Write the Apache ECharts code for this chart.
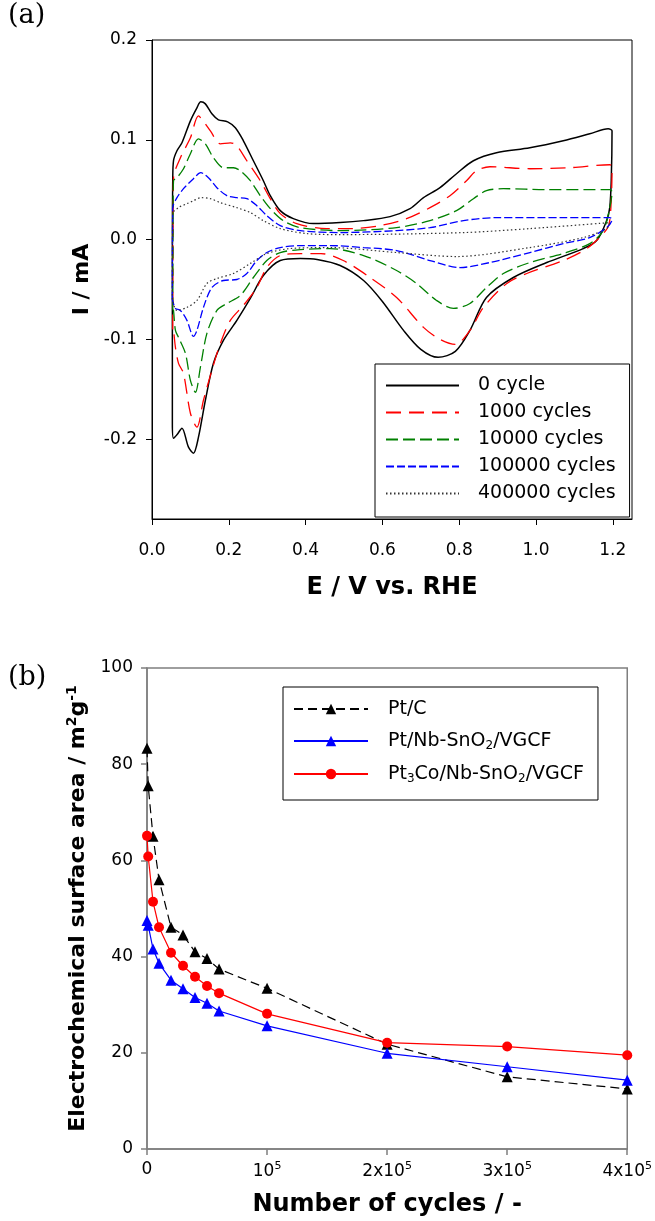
<!DOCTYPE html>
<html>
<head>
<meta charset="utf-8">
<title>CV and ECSA</title>
<script src="https://cdn.jsdelivr.net/npm/echarts@6/dist/echarts.min.js"></script>
<style>
  html, body { margin: 0; padding: 0; background: #fff; }
  #chart { width: 655px; height: 1221px; }
</style>
</head>
<body>
<div id="chart"></div>
<script>
// (a) cyclic voltammograms, [E / V, I / mA] in sweep order (anodic then cathodic)
const cv0 = [
  [0.053, -0.180], [0.053, 0.000], [0.054, 0.060], [0.056, 0.079], [0.065, 0.089], [0.078, 0.097],
  [0.100, 0.119], [0.117, 0.132], [0.127, 0.138], [0.139, 0.136], [0.156, 0.126], [0.173, 0.120],
  [0.197, 0.118], [0.217, 0.112], [0.238, 0.099], [0.264, 0.079], [0.290, 0.059], [0.308, 0.044],
  [0.334, 0.029], [0.368, 0.021], [0.420, 0.016], [0.490, 0.017], [0.551, 0.019], [0.620, 0.023],
  [0.672, 0.031], [0.707, 0.042], [0.750, 0.052], [0.793, 0.066], [0.837, 0.079], [0.897, 0.087],
  [0.984, 0.092], [1.071, 0.099], [1.140, 0.106], [1.188, 0.111], [1.198, 0.109], [1.196, 0.060],
  [1.192, 0.032], [1.184, 0.019], [1.158, -0.001], [1.123, -0.009], [1.028, -0.023], [0.941, -0.038],
  [0.871, -0.058], [0.828, -0.091], [0.790, -0.112], [0.745, -0.118], [0.700, -0.110], [0.655, -0.091],
  [0.600, -0.062], [0.551, -0.041], [0.490, -0.026], [0.430, -0.020], [0.386, -0.019], [0.334, -0.021],
  [0.290, -0.036], [0.256, -0.059], [0.221, -0.081], [0.186, -0.101], [0.160, -0.124], [0.139, -0.161],
  [0.121, -0.198], [0.108, -0.214], [0.095, -0.208], [0.078, -0.189], [0.066, -0.195], [0.056, -0.199],
  [0.053, -0.184], [0.053, -0.180]
];
const cv1000 = [
  [0.054, -0.090], [0.055, 0.030], [0.056, 0.062], [0.074, 0.082], [0.100, 0.102], [0.121, 0.124],
  [0.135, 0.118], [0.152, 0.109], [0.178, 0.096], [0.204, 0.097], [0.221, 0.094], [0.247, 0.079],
  [0.282, 0.059], [0.308, 0.041], [0.334, 0.026], [0.377, 0.016], [0.455, 0.011], [0.520, 0.011],
  [0.594, 0.014], [0.663, 0.021], [0.724, 0.032], [0.776, 0.044], [0.819, 0.059], [0.845, 0.069],
  [0.880, 0.073], [0.984, 0.071], [1.088, 0.072], [1.192, 0.075], [1.198, 0.073], [1.196, 0.040],
  [1.190, 0.015], [1.175, 0.006], [1.132, -0.009], [1.071, -0.021], [0.976, -0.034], [0.924, -0.044],
  [0.863, -0.068], [0.828, -0.091], [0.790, -0.105], [0.750, -0.100], [0.707, -0.088], [0.637, -0.058],
  [0.568, -0.038], [0.498, -0.021], [0.440, -0.014], [0.386, -0.014], [0.334, -0.016], [0.299, -0.028],
  [0.273, -0.048], [0.238, -0.066], [0.204, -0.081], [0.178, -0.104], [0.156, -0.131], [0.134, -0.161],
  [0.117, -0.188], [0.100, -0.174], [0.082, -0.134], [0.069, -0.124], [0.061, -0.108], [0.056, -0.091],
  [0.054, -0.090]
];
const cv10000 = [
  [0.054, -0.070], [0.055, 0.030], [0.056, 0.059], [0.065, 0.062], [0.082, 0.071], [0.100, 0.086],
  [0.121, 0.101], [0.139, 0.096], [0.160, 0.082], [0.186, 0.072], [0.212, 0.072], [0.230, 0.069],
  [0.256, 0.059], [0.282, 0.044], [0.308, 0.031], [0.342, 0.019], [0.386, 0.012], [0.490, 0.009],
  [0.637, 0.012], [0.724, 0.019], [0.793, 0.029], [0.837, 0.041], [0.871, 0.049], [0.915, 0.051],
  [1.028, 0.050], [1.192, 0.050], [1.198, 0.048], [1.192, 0.032], [1.175, 0.009], [1.140, -0.004],
  [1.071, -0.014], [0.984, -0.023], [0.915, -0.034], [0.871, -0.048], [0.828, -0.064], [0.785, -0.069],
  [0.741, -0.061], [0.689, -0.044], [0.637, -0.031], [0.551, -0.016], [0.464, -0.009], [0.386, -0.010],
  [0.334, -0.013], [0.299, -0.021], [0.264, -0.038], [0.230, -0.056], [0.195, -0.064], [0.169, -0.071],
  [0.143, -0.094], [0.126, -0.128], [0.113, -0.153], [0.100, -0.141], [0.087, -0.114], [0.069, -0.098],
  [0.061, -0.091], [0.056, -0.071], [0.054, -0.070]
];
const cv100000 = [
  [0.053, -0.060], [0.054, 0.032], [0.065, 0.042], [0.082, 0.051], [0.108, 0.061], [0.127, 0.067],
  [0.147, 0.062], [0.169, 0.052], [0.195, 0.044], [0.221, 0.042], [0.247, 0.041], [0.273, 0.034],
  [0.299, 0.024], [0.334, 0.014], [0.386, 0.009], [0.490, 0.007], [0.637, 0.009], [0.724, 0.012],
  [0.811, 0.019], [0.897, 0.022], [1.071, 0.022], [1.192, 0.022], [1.198, 0.020], [1.184, 0.012],
  [1.140, 0.002], [1.071, -0.004], [0.984, -0.013], [0.880, -0.023], [0.802, -0.028], [0.724, -0.021],
  [0.637, -0.011], [0.551, -0.008], [0.464, -0.006], [0.386, -0.006], [0.334, -0.008], [0.299, -0.013],
  [0.273, -0.021], [0.247, -0.034], [0.221, -0.040], [0.186, -0.041], [0.156, -0.048], [0.134, -0.068],
  [0.117, -0.091], [0.108, -0.097], [0.091, -0.081], [0.074, -0.071], [0.061, -0.069], [0.053, -0.060]
];
const cv400000 = [
  [0.053, -0.060], [0.054, 0.026], [0.069, 0.032], [0.091, 0.036], [0.108, 0.039], [0.127, 0.042],
  [0.152, 0.041], [0.178, 0.037], [0.221, 0.032], [0.256, 0.027], [0.290, 0.019], [0.334, 0.011],
  [0.403, 0.006], [0.490, 0.005], [0.811, 0.007], [0.984, 0.011], [1.192, 0.017], [1.184, 0.011],
  [1.123, 0.002], [0.984, -0.008], [0.793, -0.017], [0.637, -0.013], [0.464, -0.008], [0.360, -0.009],
  [0.299, -0.014], [0.256, -0.024], [0.212, -0.034], [0.169, -0.039], [0.143, -0.044], [0.117, -0.061],
  [0.091, -0.068], [0.065, -0.071], [0.053, -0.060]
];
const cvNames = ['0 cycle', '1000 cycles', '10000 cycles', '100000 cycles', '400000 cycles'];

// (b) electrochemical surface area vs number of cycles
const cycles = [0, 1000, 5000, 10000, 20000, 30000, 40000, 50000, 60000, 100000, 200000, 300000, 400000];
const esaPtC = [83.3, 75.5, 65.0, 56.0, 46.1, 44.5, 41.0, 39.6, 37.4, 33.4, 21.8, 15.0, 12.5];
const esaPtNb = [47.5, 46.5, 41.6, 38.6, 35.1, 33.3, 31.5, 30.3, 28.7, 25.6, 19.9, 17.1, 14.3];
const esaPt3Co = [65.1, 60.8, 51.4, 46.1, 40.8, 38.1, 35.8, 33.9, 32.4, 28.1, 22.1, 21.3, 19.5];
const esaNames = ['Pt/C', 'Pt/Nb-SnO2/VGCF', 'Pt3Co/Nb-SnO2/VGCF'];
const esaLabels = ['Pt/C', 'Pt/Nb-SnO{sub|2}/VGCF', 'Pt{sub|3}Co/Nb-SnO{sub|2}/VGCF'];
const cycleTickLabels = ['0', '10{sup|5}', '2x10{sup|5}', '3x10{sup|5}', '4x10{sup|5}'];

const FONT = 'DejaVu Sans';
const GRAY = '#7f7f7f';

const chart = echarts.init(document.getElementById('chart'));

const pairs = (ys) => cycles.map((c, i) => [c, ys[i]]);

const cvSeries = (name, data, color, dash, width) => ({
  name,
  type: 'line',
  xAxisIndex: 0,
  yAxisIndex: 0,
  data,
  symbol: 'none',
  smooth: 0.3,
  lineStyle: { color, type: dash, width },
  itemStyle: { color },
})

const esaSeries = (name, ys, color, symbol, size, dash) => ({
  name,
  type: 'line',
  xAxisIndex: 1,
  yAxisIndex: 1,
  data: pairs(ys),
  symbol,
  symbolSize: size,
  lineStyle: { color, type: dash, width: 1.2 },
  itemStyle: { color },
})

const supRich = {
  sup: { fontFamily: FONT, fontSize: 11, padding: [0, 0, 10, 0], color: '#000' },
}

const option = {
  animation: false,
  backgroundColor: '#fff',
  title: [
    { text: '(a)', left: 8, top: 2, padding: 0, textStyle: { fontFamily: 'DejaVu Serif', fontSize: 27, fontWeight: 'normal', color: '#000' } },
    { text: '(b)', left: 8, top: 664, padding: 0, textStyle: { fontFamily: 'DejaVu Serif', fontSize: 27, fontWeight: 'normal', color: '#000' } },
  ],
  legend: [
    {
      data: cvNames,
      orient: 'vertical',
      left: 375,
      top: 364,
      itemWidth: 73,
      itemHeight: 14,
      itemGap: 8,
      padding: [12, 14, 14, 10],
      borderColor: '#000',
      borderWidth: 1,
      backgroundColor: '#fff',
      selectedMode: false,
      itemStyle: { opacity: 0 },
      textStyle: { fontFamily: FONT, fontSize: 19, color: '#000', lineHeight: 18, padding: [0, 0, 0, 14] },
    },
    {
      data: esaNames,
      orient: 'vertical',
      left: 283,
      top: 687,
      itemWidth: 74,
      itemHeight: 13,
      itemGap: 12,
      padding: [12, 14, 15, 10],
      borderColor: '#000',
      borderWidth: 1,
      backgroundColor: '#fff',
      selectedMode: false,
      formatter: (name) => esaLabels[esaNames.indexOf(name)],
      textStyle: {
        fontFamily: FONT, fontSize: 19, color: '#000', lineHeight: 20, padding: [0, 0, 0, 15],
        rich: { sub: { fontFamily: FONT, fontSize: 12, padding: [10, 0, 0, 0], color: '#000' } },
      },
    },
  ],
  grid: [
    { left: 152, top: 40, width: 480, height: 479, show: true, borderColor: '#000', borderWidth: 1 },
    { left: 147, top: 668, width: 482, height: 481, show: true, borderColor: GRAY, borderWidth: 1.5 },
  ],
  xAxis: [
    {
      type: 'value',
      gridIndex: 0,
      min: 0,
      max: 1.25,
      interval: 0.2,
      name: 'E / V vs. RHE',
      nameLocation: 'middle',
      nameGap: 57,
      nameTextStyle: { fontFamily: FONT, fontSize: 24, fontWeight: 'bold', color: '#000' },
      axisLine: { onZero: false, lineStyle: { color: '#000', width: 1 } },
      axisTick: { length: 6, lineStyle: { color: '#000' } },
      axisLabel: {
        margin: 23, fontFamily: FONT, fontSize: 17, color: '#000', showMaxLabel: false,
        formatter: (v) => v.toFixed(1),
      },
      splitLine: { show: false },
    },
    {
      type: 'value',
      gridIndex: 1,
      min: 0,
      max: 400000,
      interval: 100000,
      name: 'Number of cycles / -',
      nameLocation: 'middle',
      nameGap: 44,
      nameTextStyle: { fontFamily: FONT, fontSize: 24, fontWeight: 'bold', color: '#000' },
      axisLine: { onZero: false, lineStyle: { color: GRAY, width: 1.5 } },
      axisTick: { length: 6, lineStyle: { color: GRAY, width: 1.5 } },
      axisLabel: {
        margin: 12, fontFamily: FONT, fontSize: 17, color: '#000',
        formatter: (v) => cycleTickLabels[Math.round(v / 100000)],
        rich: supRich,
      },
      splitLine: { show: false },
    },
  ],
  yAxis: [
    {
      type: 'value',
      gridIndex: 0,
      min: -0.28,
      max: 0.2,
      splitNumber: 5,
      name: 'I / mA',
      nameLocation: 'middle',
      nameRotate: 90,
      nameGap: 53,
      nameTextStyle: { fontFamily: FONT, fontSize: 22, fontWeight: 'bold', color: '#000' },
      axisLine: { onZero: false, lineStyle: { color: '#000', width: 1 } },
      axisTick: { length: 6, lineStyle: { color: '#000' } },
      axisLabel: {
        margin: 15, fontFamily: FONT, fontSize: 17, color: '#000', showMinLabel: false,
        formatter: (v) => (Math.abs(v * 10 - Math.round(v * 10)) < 1e-6 ? v.toFixed(1) : ''),
      },
      splitLine: { show: false },
    },
    {
      type: 'value',
      gridIndex: 1,
      min: 0,
      max: 100,
      interval: 20,
      name: 'Electrochemical surface area / m{sup|2}g{sup|-1}',
      nameLocation: 'middle',
      nameRotate: 90,
      nameGap: 50,
      nameTextStyle: {
        fontFamily: FONT, fontSize: 22, fontWeight: 'bold', color: '#000',
        rich: { sup: { fontFamily: FONT, fontSize: 14, fontWeight: 'bold', padding: [0, 0, 12, 0], color: '#000' } },
      },
      axisLine: { onZero: false, lineStyle: { color: GRAY, width: 1.5 } },
      axisTick: { length: 6, lineStyle: { color: GRAY, width: 1.5 } },
      axisLabel: { margin: 14, fontFamily: FONT, fontSize: 17, color: '#000' },
      splitLine: { show: false },
    },
  ],
  series: [
    cvSeries(cvNames[0], cv0, '#000000', 'solid', 1.5),
    cvSeries(cvNames[1], cv1000, '#ff0000', [15, 8], 1.3),
    cvSeries(cvNames[2], cv10000, '#008000', [12, 5], 1.3),
    cvSeries(cvNames[3], cv100000, '#0000ff', [8, 3], 1.3),
    cvSeries(cvNames[4], cv400000, '#333333', [1.5, 2.5], 1.2),
    esaSeries(esaNames[0], esaPtC, '#000000', 'triangle', 11, [9, 5]),
    esaSeries(esaNames[1], esaPtNb, '#0000ff', 'triangle', 11, 'solid'),
    esaSeries(esaNames[2], esaPt3Co, '#ff0000', 'circle', 10, 'solid'),
  ],
}

chart.setOption(option)
</script>
</body>
</html>
